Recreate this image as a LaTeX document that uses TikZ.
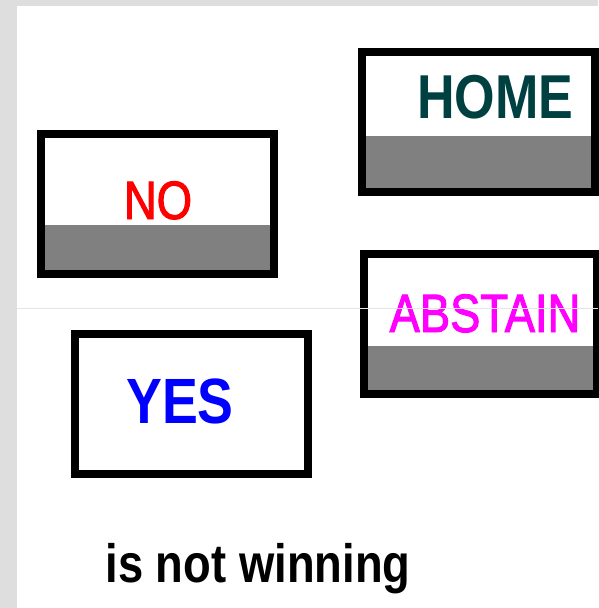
\documentclass[tikz,border=0pt]{standalone}
\usepackage{fontspec}
\newfontfamily\ballotfont{Liberation Sans}[FakeStretch=0.84]
\newfontfamily\ballotmedfont{Liberation Sans}[FakeStretch=0.84, FakeBold=1.8]
\usetikzlibrary{calc}
\definecolor{hometeal}{RGB}{0,64,64}
\definecolor{framegray}{RGB}{222,222,222}
\definecolor{abstainpink}{RGB}{255,0,255}
\begin{document}
\begin{tikzpicture}[x=1pt, y=-1pt, every node/.style={font=\ballotfont, inner sep=0pt}]
  \tikzstyle{ballotbox}=[outer sep=0pt, minimum width=233pt, minimum height=140pt]
  \tikzstyle{vote}=[anchor=base, font=\ballotmedfont\fontsize{54}{60}\selectfont]
  \tikzstyle{votebold}=[anchor=base, font=\ballotfont\bfseries\fontsize{64}{70}\selectfont]
  % frame
  \fill[framegray] (0,0) rectangle (598,608);
  \fill[white] (17,6) rectangle (598,608);
  \useasboundingbox (0,0) rectangle (598,608);
  % boxes
  \node[ballotbox] (nobox) at (157.25,204) {};
  \node[ballotbox] (homebox) at (478.5,122) {};
  \node[ballotbox] (abstainbox) at (480.5,324) {};
  \node[ballotbox] (yesbox) at (191.5,404) {};
  \fill[gray] (nobox.south west) rectangle ($(nobox.south east)+(0,-49)$);
  \fill[gray] (homebox.south west) rectangle ($(homebox.south east)+(0,-56)$);
  \fill[gray] (abstainbox.south west) rectangle ($(abstainbox.south east)+(0,-48)$);
  \foreach \b in {nobox,homebox,abstainbox,yesbox}
    \draw[line width=8pt] (\b.south west) rectangle (\b.north east);
  % labels
  \node[vote, red] (no) at (158,219) {NO};
  \node[votebold, hometeal, font=\ballotfont\bfseries\fontsize{62}{70}\selectfont] (home) at (495.5,118) {HOME};
  \node[vote, abstainpink] (abstain) at (485,332) {ABSTAIN};
  \node[votebold, blue] (yes) at (180,423) {YES};
  \node[votebold, black, font=\ballotfont\bfseries\fontsize{54}{60}\selectfont] (caption) at (258,582) {is not winning};
  \draw[black!10, line width=0.8pt] (17,308) -- (598,308);
\end{tikzpicture}
\end{document}
